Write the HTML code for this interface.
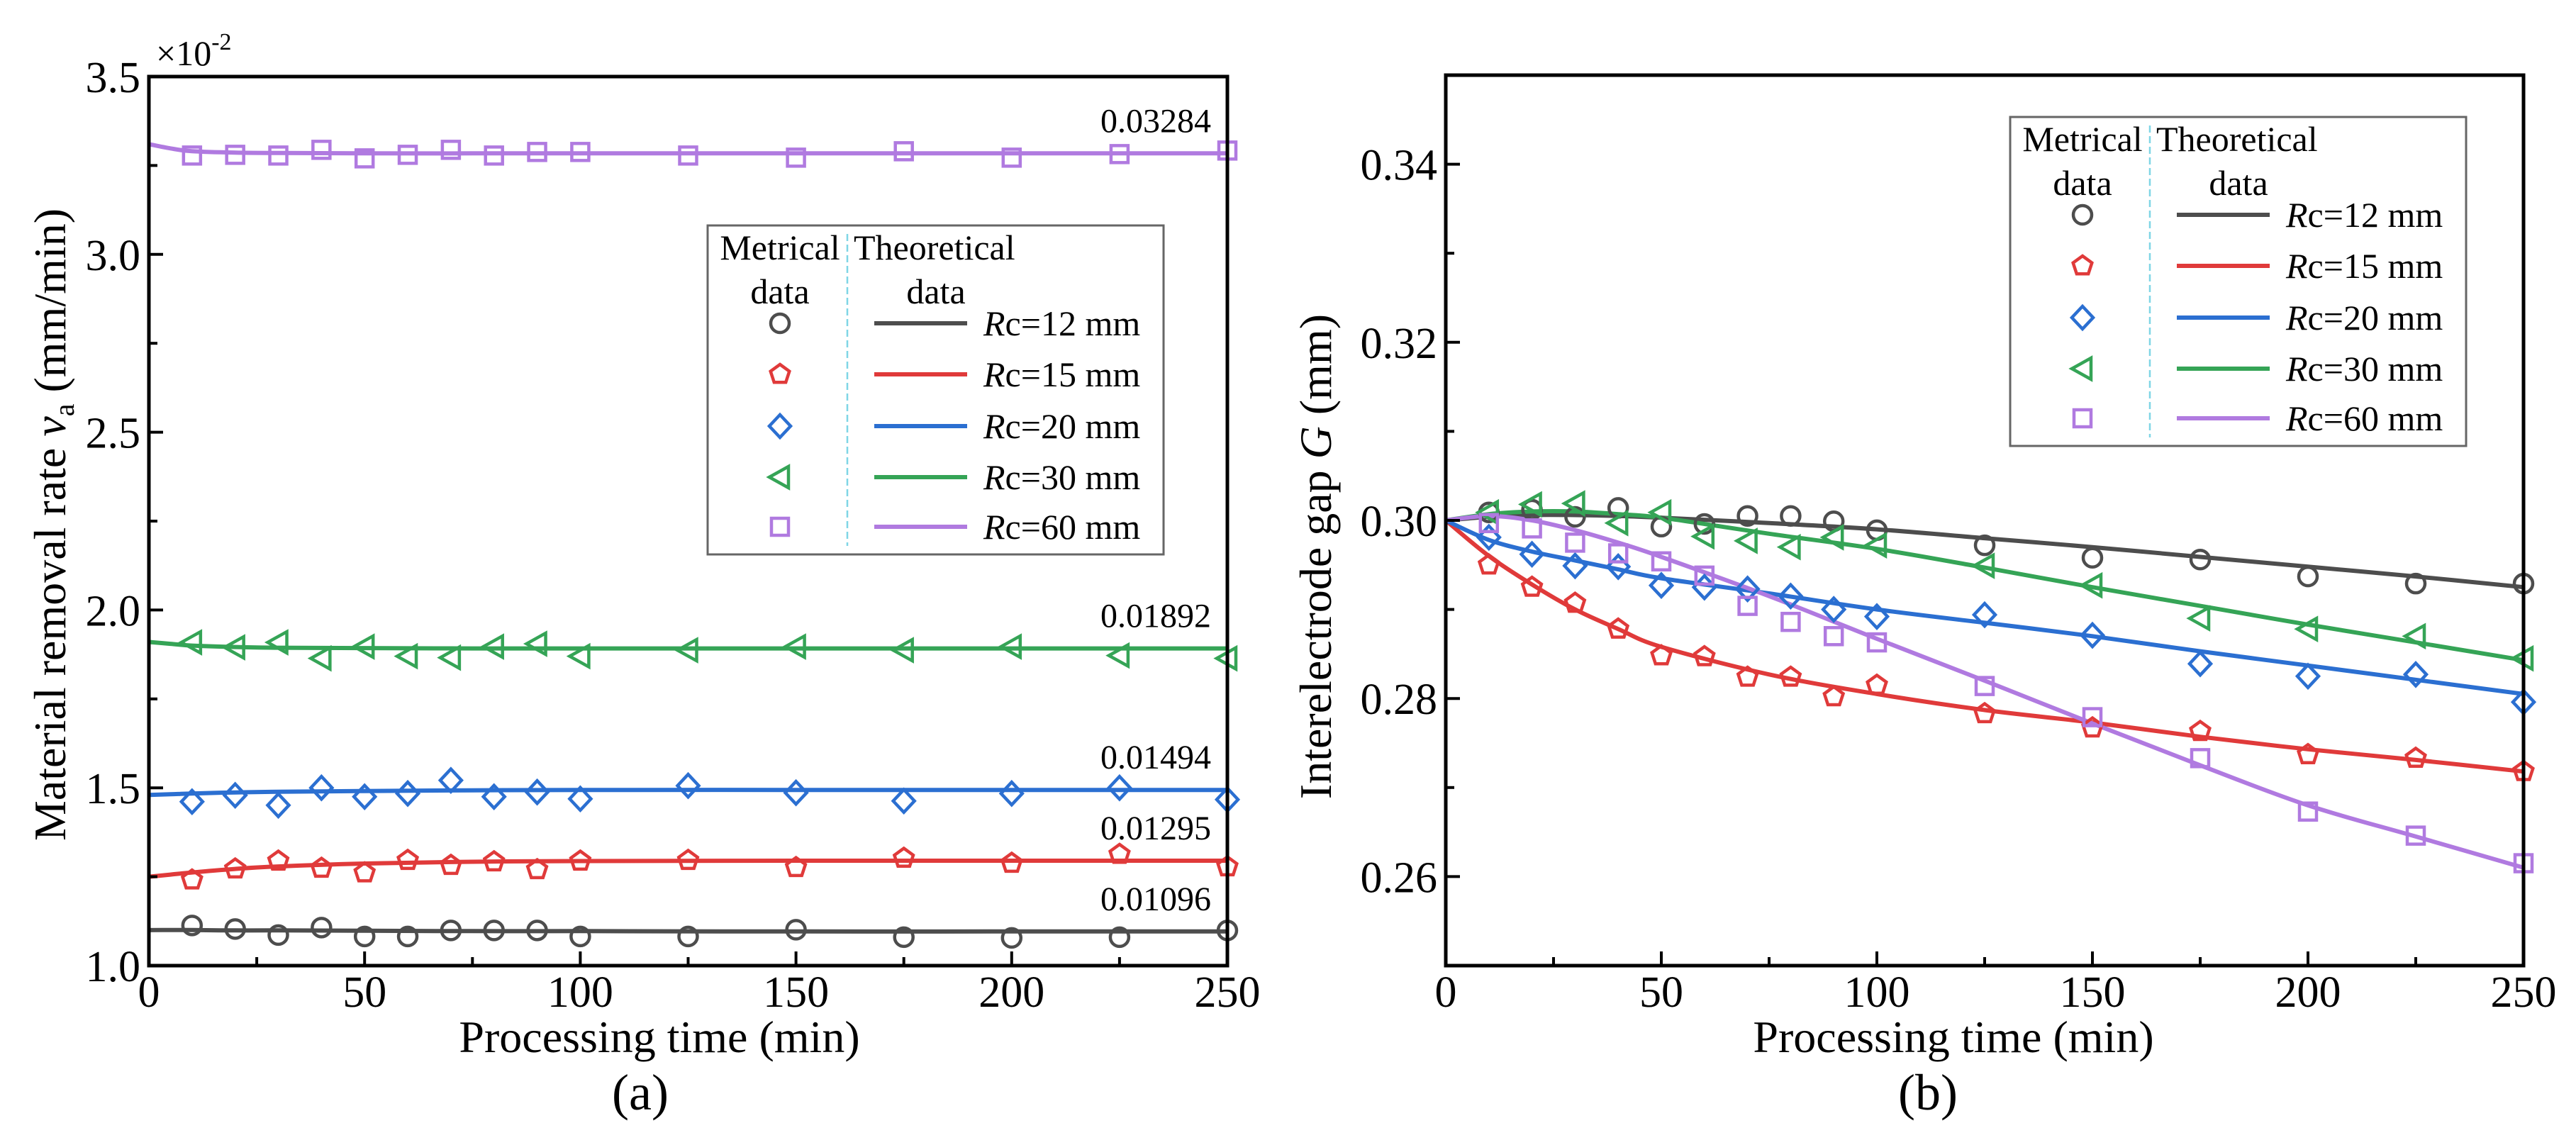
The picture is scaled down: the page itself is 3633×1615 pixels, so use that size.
<!DOCTYPE html>
<html><head><meta charset="utf-8"><style>
html,body{margin:0;padding:0;background:#fff;}
svg{display:block;font-family:"Liberation Serif",serif;}
</style></head><body>
<svg id="fig" width="3633" height="1615" viewBox="0 0 3633 1615" xmlns="http://www.w3.org/2000/svg"></svg>
<script>
// ---------- data ----------
const timesMeas = [10,20,30,40,50,60,70,80,90,100,125,150,175,200,225,250];
const seriesNames = ["Rc=12 mm","Rc=15 mm","Rc=20 mm","Rc=30 mm","Rc=60 mm"];
// panel (a) measured (x1e-2 mm/min)
const aRc12 = [1.113,1.103,1.086,1.107,1.082,1.082,1.099,1.099,1.099,1.082,1.082,1.101,1.080,1.078,1.080,1.099];
const aRc15 = [1.241,1.272,1.294,1.274,1.261,1.296,1.282,1.292,1.270,1.294,1.296,1.276,1.302,1.288,1.313,1.278];
const aRc20 = [1.461,1.479,1.451,1.500,1.475,1.484,1.521,1.475,1.488,1.469,1.506,1.486,1.463,1.484,1.500,1.467];
const aRc30 = [1.909,1.895,1.909,1.864,1.897,1.870,1.866,1.897,1.905,1.870,1.887,1.897,1.887,1.897,1.872,1.864];
const aRc60 = [3.278,3.280,3.278,3.294,3.270,3.280,3.294,3.278,3.288,3.288,3.278,3.272,3.290,3.272,3.282,3.292];
// panel (a) theory
const aTheoryT = [0,5,10,20,30,50,75,100,150,200,250];
const aTh12 = [1.100,1.100,1.100,1.099,1.099,1.098,1.097,1.097,1.096,1.096,1.096];
const aTh15 = [1.250,1.256,1.262,1.272,1.279,1.287,1.292,1.294,1.295,1.295,1.295];
const aTh20 = [1.480,1.482,1.484,1.487,1.489,1.491,1.493,1.494,1.494,1.494,1.494];
const aTh30 = [1.910,1.905,1.900,1.896,1.894,1.893,1.892,1.892,1.892,1.892,1.892];
const aTh60 = [3.310,3.298,3.290,3.286,3.285,3.284,3.284,3.284,3.284,3.284,3.284];
const aLabels = ["0.01096","0.01295","0.01494","0.01892","0.03284"];
const aXTicks = [0,50,100,150,200,250];
const aYTicks = [1.0,1.5,2.0,2.5,3.0,3.5];
// panel (b) measured (mm)
const bRc12 = [0.3009,0.3012,0.3004,0.3014,0.2993,0.2996,0.3005,0.3005,0.2999,0.2989,0.2972,0.2958,0.2956,0.2937,0.2929,0.2929];
const bRc15 = [0.2950,0.2925,0.2907,0.2878,0.2848,0.2847,0.2824,0.2824,0.2802,0.2815,0.2783,0.2767,0.2763,0.2737,0.2733,0.2718];
const bRc20 = [0.2981,0.2962,0.2949,0.2948,0.2927,0.2925,0.2923,0.2915,0.2900,0.2892,0.2894,0.2871,0.2839,0.2825,0.2827,0.2796];
const bRc30 = [0.3009,0.3018,0.3019,0.2997,0.3009,0.2982,0.2977,0.2970,0.2981,0.2972,0.2949,0.2927,0.2890,0.2878,0.2870,0.2845];
const bRc60 = [0.2997,0.2991,0.2975,0.2963,0.2954,0.2938,0.2904,0.2886,0.2870,0.2863,0.2814,0.2779,0.2733,0.2673,0.2646,0.2615];
// panel (b) theory
const bTheoryT = [0,10,20,30,40,50,75,100,125,150,175,200,225,250];
const bTh12 = [0.3000,0.3004,0.3006,0.3006,0.3005,0.3003,0.2997,0.2990,0.2980,0.2970,0.2959,0.2948,0.2937,0.2925];
const bTh15 = [0.3000,0.2960,0.2928,0.2900,0.2878,0.2858,0.2827,0.2805,0.2787,0.2773,0.2757,0.2743,0.2731,0.2718];
const bTh20 = [0.3000,0.2978,0.2965,0.2955,0.2945,0.2935,0.2918,0.2900,0.2885,0.2870,0.2853,0.2837,0.2821,0.2805];
const bTh30 = [0.3000,0.3007,0.3010,0.3010,0.3007,0.3003,0.2985,0.2968,0.2947,0.2925,0.2904,0.2883,0.2863,0.2843];
const bTh60 = [0.3000,0.3005,0.3000,0.2989,0.2975,0.2959,0.2915,0.2867,0.2820,0.2772,0.2725,0.2680,0.2645,0.2610];
const bXTicks = [0,50,100,150,200,250];
const bYTicks = [0.26,0.28,0.30,0.32,0.34];

// ---------- drawing ----------
const NS = "http://www.w3.org/2000/svg";
const svg = document.getElementById("fig");
const colors = ["#4d4d4d","#e03a3a","#2b6fd1","#35a456","#b07ae0"];
const markers = ["circle","pentagon","diamond","triangle","square"];
function mk(tag, attrs, parent){
  const e = document.createElementNS(NS, tag);
  for (const k in attrs) e.setAttribute(k, attrs[k]);
  (parent||svg).appendChild(e);
  return e;
}
function txt(s, x, y, size, anchor, parent, italic){
  const t = mk("text",{x:x,y:y,"font-size":size,"text-anchor":anchor||"start",fill:"#000"},parent);
  if (italic) t.setAttribute("font-style","italic");
  t.textContent = s;
  return t;
}
function drawMarker(g, type, cx, cy, col){
  const r = 13, sw = 4.5;
  let e;
  if (type==="circle") e = mk("circle",{cx:cx,cy:cy,r:r,fill:"none",stroke:col,"stroke-width":sw},g);
  else if (type==="square") e = mk("rect",{x:cx-12,y:cy-12,width:24,height:24,fill:"none",stroke:col,"stroke-width":sw},g);
  else if (type==="diamond") e = mk("polygon",{points:`${cx},${cy-16} ${cx+15},${cy} ${cx},${cy+16} ${cx-15},${cy}`,fill:"none",stroke:col,"stroke-width":sw},g);
  else if (type==="triangle") e = mk("polygon",{points:`${cx-15},${cy} ${cx+12},${cy-15} ${cx+12},${cy+15}`,fill:"none",stroke:col,"stroke-width":sw},g);
  else {
    let p=[]; for(let i=0;i<5;i++){const a=-Math.PI/2+i*2*Math.PI/5;p.push((cx+14*Math.cos(a)).toFixed(1)+","+(cy+14*Math.sin(a)).toFixed(1));}
    e = mk("polygon",{points:p.join(" "),fill:"none",stroke:col,"stroke-width":sw},g);
  }
  return e;
}
function smoothPath(pts){
  let d = `M${pts[0][0]},${pts[0][1]}`;
  for (let i=0;i<pts.length-1;i++){
    const p0=pts[Math.max(i-1,0)],p1=pts[i],p2=pts[i+1],p3=pts[Math.min(i+2,pts.length-1)];
    const c1=[p1[0]+(p2[0]-p0[0])/6,p1[1]+(p2[1]-p0[1])/6];
    const c2=[p2[0]-(p3[0]-p1[0])/6,p2[1]-(p3[1]-p1[1])/6];
    d += ` C${c1[0].toFixed(1)},${c1[1].toFixed(1)} ${c2[0].toFixed(1)},${c2[1].toFixed(1)} ${p2[0].toFixed(1)},${p2[1].toFixed(1)}`;
  }
  return d;
}

function panel(cfg){
  const g = mk("g",{});
  
  
  const X = v => cfg.x0 + (v - cfg.xmin)/(cfg.xmax-cfg.xmin)*(cfg.x1-cfg.x0);
  const Y = v => cfg.y0 - (v - cfg.ymin)/(cfg.ymax-cfg.ymin)*(cfg.y0-cfg.y1);
  // theory lines
  cfg.theory.forEach((arr,i)=>{
    const pts = cfg.theoryT.map((t,j)=>[X(t),Y(arr[j])]);
    const p = mk("path",{d:smoothPath(pts),fill:"none",stroke:colors[i],"stroke-width":6},g);
    
    
  });
  // measured markers
  cfg.meas.forEach((arr,i)=>{
    const mg = mk("g",{},g);
    
    
    arr.forEach((v,j)=>{
      const m = drawMarker(mg, markers[i], X(timesMeas[j]), Y(v), colors[i]);
      
      
    });
  });
  // axes frame
  const fr = mk("rect",{x:cfg.x0,y:cfg.y1,width:cfg.x1-cfg.x0,height:cfg.y0-cfg.y1,fill:"none",stroke:"#000","stroke-width":5},g);
  
  
  // x ticks
  const xg = mk("g",{},g);
  
  
  cfg.xTicks.forEach((v,k)=>{
    mk("line",{x1:X(v),y1:cfg.y0,x2:X(v),y2:cfg.y0-20,stroke:"#000","stroke-width":4},xg);
    if (k<cfg.xTicks.length-1){const mv=(v+cfg.xTicks[k+1])/2;mk("line",{x1:X(mv),y1:cfg.y0,x2:X(mv),y2:cfg.y0-12,stroke:"#000","stroke-width":4},xg);}
    const t = txt(String(v), X(v), cfg.y0+58, 62, "middle", xg);
    
    
  });
  // y ticks
  const yg = mk("g",{},g);
  
  
  cfg.yTicks.forEach((v,k)=>{
    mk("line",{x1:cfg.x0,y1:Y(v),x2:cfg.x0+20,y2:Y(v),stroke:"#000","stroke-width":4},yg);
    const step = cfg.yTicks[1]-cfg.yTicks[0];
    const mv = v+step/2;
    if (mv < cfg.ymax) mk("line",{x1:cfg.x0,y1:Y(mv),x2:cfg.x0+12,y2:Y(mv),stroke:"#000","stroke-width":4},yg);
    const t = txt(v.toFixed(cfg.yDec), cfg.x0-12, Y(v)+22, 62, "end", yg);
    
    
  });
  if (cfg.minorBelow) mk("line",{x1:cfg.x0,y1:Y(cfg.yTicks[0]-(cfg.yTicks[1]-cfg.yTicks[0])/2),x2:cfg.x0+12,y2:Y(cfg.yTicks[0]-(cfg.yTicks[1]-cfg.yTicks[0])/2),stroke:"#000","stroke-width":4},yg);
  // legend
  const lx = cfg.legX, ly = cfg.legY;
  const lg = mk("g",{},g);
  
  
  mk("rect",{x:lx,y:ly,width:643,height:464,fill:"#fff",stroke:"#666","stroke-width":3},lg);
  mk("line",{x1:lx+197,y1:ly+12,x2:lx+197,y2:ly+452,stroke:"#7fd6e6","stroke-width":2.5,"stroke-dasharray":"10,5"},lg);
  txt("Metrical", lx+102, ly+48, 50, "middle", lg);
  txt("data", lx+102, ly+110, 50, "middle", lg);
  txt("Theoretical", lx+206, ly+48, 50, "start", lg);
  txt("data", lx+322, ly+110, 50, "middle", lg);
  const rowsY = [138,210,283,355,425];
  seriesNames.forEach((s,i)=>{
    const ey = ly+rowsY[i];
    const eg = mk("g",{},lg);
    
    
    drawMarker(eg, markers[i], lx+102, ey, colors[i]);
    mk("line",{x1:lx+235,y1:ey,x2:lx+366,y2:ey,stroke:colors[i],"stroke-width":6},eg);
    const t = mk("text",{x:lx+389,y:ey+17,"font-size":50,fill:"#000"},eg);
    const it = document.createElementNS(NS,"tspan"); it.setAttribute("font-style","italic"); it.textContent="R"; t.appendChild(it);
    const rest = document.createElementNS(NS,"tspan"); rest.textContent = s.slice(1); t.appendChild(rest);
  });
  return {X,Y,g};
}

// panel a
const pa = panel({name:"panel-a", x0:210,x1:1731,y0:1362,y1:108,xmin:0,xmax:250,ymin:1.0,ymax:3.5,
  xTicks:aXTicks,yTicks:aYTicks,yDec:1,theoryT:aTheoryT,
  theory:[aTh12,aTh15,aTh20,aTh30,aTh60],meas:[aRc12,aRc15,aRc20,aRc30,aRc60],legX:998,legY:318});
const aEnd = [aTh12,aTh15,aTh20,aTh30,aTh60];
aLabels.forEach((s,i)=>{
  const last = aEnd[i][aEnd[i].length-1];
  const t = txt(s, 1708, pa.Y(last)-30, 48, "end", pa.g);
  
  
});
{
  const t = mk("text",{x:220,y:92,"font-size":50,fill:"#000"},pa.g);
  t.textContent = "×10";
  const s = document.createElementNS(NS,"tspan"); s.setAttribute("dy","-22"); s.setAttribute("font-size","34"); s.textContent="-2"; t.appendChild(s);
  
  
  const yt = mk("text",{x:0,y:0,"font-size":64,"text-anchor":"middle",fill:"#000",transform:"translate(92,740) rotate(-90)"},pa.g);
  yt.innerHTML = 'Material removal rate <tspan font-style="italic">v</tspan><tspan font-size="40" dy="12">a</tspan><tspan dy="-12"> (mm/min)</tspan>';
  
  
  const xt = txt("Processing time (min)", 930, 1484, 64, "middle", pa.g);
  
  
  const cap = txt("(a)", 903, 1565, 72, "middle", pa.g);
  
  
}
// panel b
const pb = panel({name:"panel-b", x0:2039,x1:3559,y0:1362,y1:106,xmin:0,xmax:250,ymin:0.25,ymax:0.35,
  xTicks:bXTicks,yTicks:bYTicks,yDec:2,theoryT:bTheoryT,minorBelow:true,
  theory:[bTh12,bTh15,bTh20,bTh30,bTh60],meas:[bRc12,bRc15,bRc20,bRc30,bRc60],legX:2835,legY:165});
{
  const yt = mk("text",{x:0,y:0,"font-size":64,"text-anchor":"middle",fill:"#000",transform:"translate(1877,785) rotate(-90)"},pb.g);
  yt.innerHTML = 'Interelectrode gap <tspan font-style="italic">G</tspan> (mm)';
  
  
  const xt = txt("Processing time (min)", 2755, 1484, 64, "middle", pb.g);
  
  
  const cap = txt("(b)", 2719, 1565, 72, "middle", pb.g);
  
  
}
</script>
</body></html>
